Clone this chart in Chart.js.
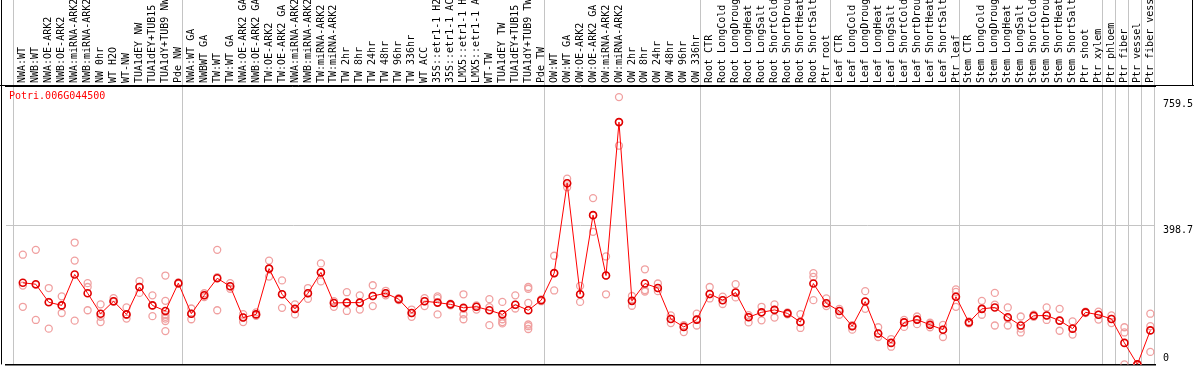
<!DOCTYPE html>
<html>
<head>
<meta charset="utf-8">
<script src="https://cdn.jsdelivr.net/npm/chart.js@4.4.1/dist/chart.umd.min.js"></script>
<style>
  html, body { margin: 0; padding: 0; background: #fff; }
  #wrap { width: 1194px; height: 370px; }
</style>
</head>
<body>
<div id="wrap"><canvas id="chart_expr"></canvas></div>
<script>
const geneName = 'Potri.006G044500';

const samples = [
  'NWA:WT', 'NWB:WT', 'NWA:OE-ARK2', 'NWB:OE-ARK2', 'NWA:miRNA-ARK2', 'NWB:miRNA-ARK2', 'NW 0hr', 'WT H2O', 'WT-NW',
  'TUA1dEY NW', 'TUA1dEY+TUB15 NW', 'TUA1dY+TUB9 NW', 'Pde NW',
  'NWA:WT GA', 'NWBWT GA', 'TW:WT', 'TW:WT GA', 'NWA:OE-ARK2 GA', 'NWB:OE-ARK2 GA', 'TW:OE-ARK2', 'TW:OE-ARK2 GA',
  'NWA:miRNA-ARK2 GA', 'NWB:miRNA-ARK2 GA', 'TW:miRNA-ARK2', 'TW:miRNA-ARK2 GA',
  'TW 2hr', 'TW 8hr', 'TW 24hr', 'TW 48hr', 'TW 96hr', 'TW 336hr', 'WT ACC',
  '35S::etr1-1 H2O', '35S::etr1-1 ACC', 'LMX5::etr1-1 H2O', 'LMX5::etr1-1 ACC',
  'WT-TW', 'TUA1dEY TW', 'TUA1dEY+TUB15 TW', 'TUA1dY+TUB9 TW', 'Pde TW',
  'OW:WT', 'OW:WT GA', 'OW:OE-ARK2', 'OW:OE-ARK2 GA', 'OW:miRNA-ARK2', 'OW:miRNA-ARK2 GA',
  'OW 2hr', 'OW 8hr', 'OW 24hr', 'OW 48hr', 'OW 96hr', 'OW 336hr',
  'Root CTR', 'Root LongCold', 'Root LongDrought', 'Root LongHeat', 'Root LongSalt',
  'Root ShortCold', 'Root ShortDrought', 'Root ShortHeat', 'Root ShortSalt', 'Ptr root',
  'Leaf CTR', 'Leaf LongCold', 'Leaf LongDrought', 'Leaf LongHeat', 'Leaf LongSalt',
  'Leaf ShortCold', 'Leaf ShortDrought', 'Leaf ShortHeat', 'Leaf ShortSalt', 'Ptr leaf',
  'Stem CTR', 'Stem LongCold', 'Stem LongDrought', 'Stem LongHeat', 'Stem LongSalt',
  'Stem ShortCold', 'Stem ShortDrought', 'Stem ShortHeat', 'Stem ShortSalt', 'Ptr shoot',
  'Ptr xylem', 'Ptr phloem', 'Ptr fiber', 'Ptr vessel', 'Ptr fiber vessel'
];

// first sample index of each group (plus the end), where the separators go
const groupStarts = [0, 13, 41, 53, 63, 73, 84, 85, 86, 87, 88];

const means = [
  235, 231, 179, 170, 259, 205, 146, 182, 144, 223, 170, 154, 234,
  146, 199, 248, 225, 135, 144, 276, 202, 160, 205, 265, 177, 178, 178, 197, 205, 188, 148, 182,
  178, 173, 163, 166, 156, 144, 172, 156, 185,
  263, 522, 202, 430, 256, 698, 183, 233, 220, 131, 108, 129,
  203, 185, 207, 136, 150, 157, 147, 122, 233, 176,
  154, 110, 181, 89, 62, 121, 129, 114, 100, 195,
  121, 160, 164, 136, 112, 140, 141, 126, 103, 150, 143,
  131, 62, 0, 98
];

const replicates = [
  [316, 227, 166], [330, 229, 128], [220, 180, 103], [196, 170, 148], [351, 299, 126],
  [234, 223, 156], [173, 137, 122], [191, 182, 180], [164, 143, 132], [240, 223, 206],
  [199, 170, 139], [256, 183, 143, 137, 132, 125, 96], [236, 232],
  [161, 146, 130], [205, 199, 194], [330, 251, 156], [234, 225, 218], [145, 135, 122],
  [150, 144, 140], [299, 276, 253], [242, 202, 163], [173, 160, 144], [220, 205, 189],
  [291, 265, 239], [182, 177, 166], [208, 178, 154], [199, 178, 158], [228, 197, 168],
  [212, 205, 199], [191, 188, 185], [158, 148, 137], [191, 182, 168], [196, 191, 144],
  [175, 173, 170], [202, 160, 144, 130], [170, 166, 158], [188, 165, 113], [180, 130, 122, 118],
  [199, 172, 161], [223, 218, 177, 115, 110, 102], [187, 185, 182],
  [313, 263, 213], [535, 522, 510], [226, 202, 180], [479, 430, 382], [311, 256, 202],
  [770, 698, 630], [197, 183, 169], [274, 214, 210], [233, 220, 211], [141, 131, 119],
  [113, 108, 93], [146, 129, 112],
  [223, 202, 190], [195, 185, 174], [231, 207, 193], [142, 136, 121], [166, 150, 127],
  [173, 157, 135], [150, 147, 144], [145, 122, 105], [263, 252, 185], [190, 176, 168],
  [160, 154, 143], [113, 110, 100], [211, 181, 160], [107, 89, 79], [73, 62, 51],
  [128, 121, 108], [138, 129, 116], [120, 114, 107], [114, 100, 79], [216, 209, 195, 166],
  [124, 121, 118], [183, 160, 143], [206, 172, 112], [164, 133, 112], [138, 103, 92],
  [143, 140, 137], [164, 141, 128], [160, 126, 97], [124, 103, 86], [152, 150, 148],
  [152, 143, 129],
  [141, 131, 119], [107, 92, 0], [0, 0, 0], [146, 110, 36]
];

const yTicks = [0, 398.7, 759.5];
const yMax = 802;

const FONT = '10px "DejaVu Sans Mono", "Liberation Mono", monospace';

const meanPoints = means.map((v, i) => ({x: i, y: v}));
const repPoints = [];
replicates.forEach((reps, i) => reps.forEach(v => repPoints.push({x: i, y: v})));

// labels on top, box around them, gene name and value labels
const decorations = {
  id: 'decorations',
  afterDraw(chart) {
    const {ctx, chartArea} = chart;
    const xs = chart.scales.x;
    const ys = chart.scales.y;
    const W = chart.width;
    ctx.save();
    ctx.strokeStyle = '#000';
    ctx.lineWidth = 1;
    ctx.beginPath();
    ctx.moveTo(0, chartArea.top - 0.5);
    ctx.lineTo(W, chartArea.top - 0.5);
    ctx.moveTo(W - 1.5, 0);
    ctx.lineTo(W - 1.5, chartArea.top);
    ctx.moveTo(1.5, 0);
    ctx.lineTo(1.5, chartArea.bottom);
    ctx.stroke();

    ctx.font = FONT;
    ctx.fillStyle = '#000';
    ctx.textAlign = 'left';
    ctx.textBaseline = 'middle';
    samples.forEach((s, i) => {
      ctx.save();
      ctx.translate(xs.getPixelForValue(i), chartArea.top - 3);
      ctx.rotate(-Math.PI / 2);
      ctx.fillText(s, 0, 0);
      ctx.restore();
    });

    ctx.fillStyle = '#ff0000';
    ctx.textBaseline = 'top';
    ctx.fillText(geneName, 9, chartArea.top + 5);

    ctx.fillStyle = '#000';
    yTicks.forEach(v => {
      const py = ys.getPixelForValue(v);
      if (v === 0) {
        ctx.textBaseline = 'alphabetic';
        ctx.fillText(String(v), chartArea.right + 8, py - 3);
      } else {
        ctx.textBaseline = 'top';
        ctx.fillText(String(v), chartArea.right + 8, py - 1);
      }
    });
    ctx.restore();
  }
};

const xLeft = -1.33;
const xRight = 87.36;

const exprChart = new Chart(document.getElementById('chart_expr'), {
  data: {
    datasets: [{
      type: 'line',
      label: 'mean',
      data: meanPoints,
      order: 0,
      borderColor: '#ff0000',
      borderWidth: 1,
      tension: 0,
      fill: false,
      pointRadius: 3.5,
      pointBorderWidth: 1.6,
      pointBorderColor: '#e00000',
      pointBackgroundColor: 'rgba(255,255,255,0)'
    }, {
      type: 'scatter',
      label: 'replicates',
      data: repPoints,
      order: 1,
      pointRadius: 3.5,
      pointBorderWidth: 1.3,
      borderColor: '#f0a0a0',
      backgroundColor: 'rgba(255,255,255,0)'
    }]
  },
  options: {
    responsive: true,
    maintainAspectRatio: false,
    animation: false,
    layout: { padding: { left: 2, right: 39, top: 0, bottom: 2 } },
    plugins: { legend: { display: false }, tooltip: { enabled: false } },
    scales: {
      x: {
        type: 'linear',
        position: 'top',
        min: xLeft,
        max: xRight,
        afterBuildTicks: s => { s.ticks = groupStarts.map(k => ({value: k - 0.715})); },
        afterFit: s => { s.height = 86; },
        ticks: { display: false },
        grid: { color: '#c4c4c4', lineWidth: 1, tickLength: 86 },
        border: { display: true, color: '#000', width: 1 }
      },
      xb: {
        type: 'linear',
        position: 'bottom',
        min: xLeft,
        max: xRight,
        afterFit: s => { s.height = 0; },
        ticks: { display: false },
        grid: { display: false },
        border: { display: true, color: '#000', width: 1.5 }
      },
      y: {
        type: 'linear',
        position: 'left',
        min: 0,
        max: yMax,
        afterBuildTicks: s => { s.ticks = [{value: yTicks[1]}]; },
        afterFit: s => { s.width = 0; },
        ticks: { display: false },
        grid: { color: '#c4c4c4', lineWidth: 1, drawTicks: false },
        border: { display: false }
      }
    }
  },
  plugins: [decorations]
});
</script>
</body>
</html>
